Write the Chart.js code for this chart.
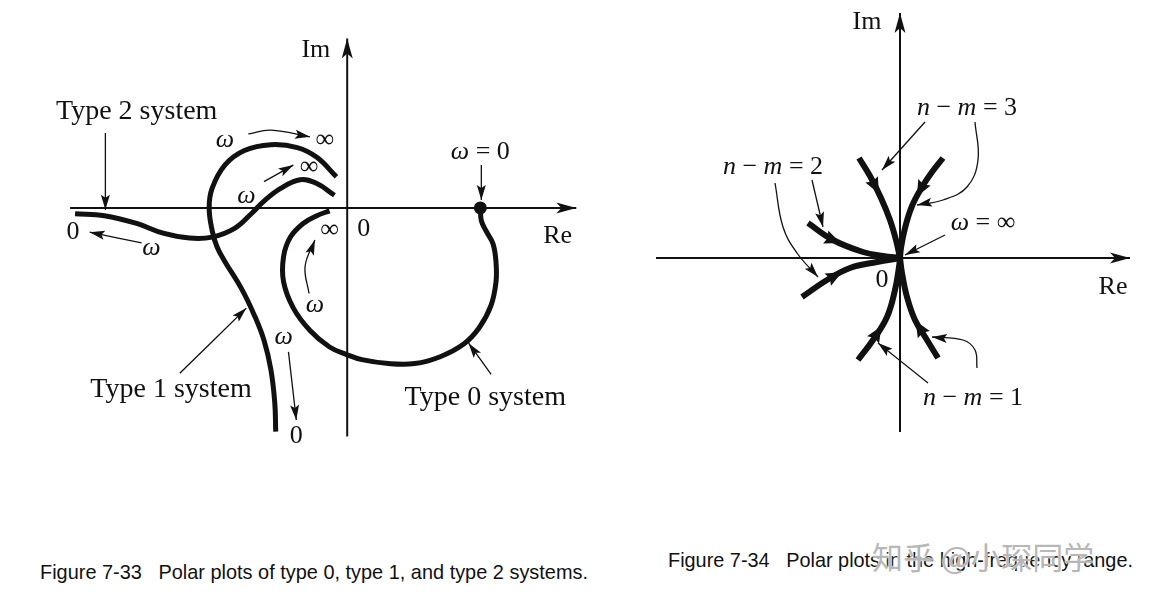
<!DOCTYPE html>
<html>
<head>
<meta charset="utf-8">
<script src="https://cdn.jsdelivr.net/npm/chart.js@4.4.1/dist/chart.umd.min.js"></script>
<style>
  html, body { margin: 0; background: #fff; }
  body { width: 1149px; height: 606px; position: relative; overflow: hidden; }
  canvas { position: absolute; top: 0; }
  #left { left: 0; }
  #right { left: 620px; }
  .cap {
    position: absolute;
    font-family: "Liberation Sans", Arial, sans-serif;
    font-size: 21px;
    line-height: 21px;
    color: #111;
    white-space: pre;
    transform-origin: 0 50%;
  }
  .mark {
    position: absolute;
    font-family: "Noto Sans CJK SC", sans-serif;
    font-size: 31px;
    line-height: 31px;
    color: rgba(160, 160, 160, 0.75);
    text-shadow: 0 0 2px #fff, 0 0 1px #fff;
    white-space: pre;
  }
</style>
</head>
<body>
<canvas id="left" width="620" height="480"></canvas>
<canvas id="right" width="529" height="480"></canvas>
<div class="cap" data-w="548" style="left:40px;top:561px">Figure 7-33   Polar plots of type 0, type 1, and type 2 systems.</div>
<div class="cap" data-w="465" style="left:668px;top:549px">Figure 7-34   Polar plots in the high-frequency range.</div>
<div class="mark" style="left:872px;top:540px">知乎 @小琛同学</div>
<script>
// ---- Figure 7-33 (origin at the axes crossing, Im upwards) ----
const RE_AXIS_33 = [[-283, 0], [234, 0]];
const IM_AXIS_33 = [[0, -235], [0, 174]];

const TYPE0 = [[136, 0], [137, -13], [142, -24], [149, -37], [152, -56], [152, -76],
  [147, -100], [135, -123], [119, -140], [95, -153], [69, -160], [42, -160],
  [15, -156], [0, -151], [-18, -143], [-38, -126], [-55, -103], [-65, -76],
  [-65, -50], [-58, -30], [-45, -16], [-31, -8], [-18, -3]];

const TYPE1 = [[-11, 32], [-31, 52], [-51, 62], [-78, 65], [-105, 59], [-125, 44],
  [-138, 20], [-141, 0], [-138, -23], [-133, -40], [-125, -55], [-108, -83],
  [-95, -110], [-85, -136], [-78, -166], [-74, -200], [-73, -230]];

const TYPE2 = [[-278, -6], [-248, -8], [-215, -16], [-188, -26], [-161, -31],
  [-138, -30], [-115, -21], [-98, -6], [-85, 7], [-68, 20], [-48, 29], [-31, 25], [-13, 13]];

const OMEGA_ZERO = [[136, 0]];

// pointer arrows, the last point is the tip
const POINTERS_33 = [
  [[-247, 77], [-247, -2]],
  [[-101, 76], [-78, 80], [-38, 73]],
  [[-85, 27], [-55, 44]],
  [[-210, -36], [-263, -25]],
  [[-39, -88], [-43, -60], [-33, -33]],
  [[-60, -148], [-56, -183], [-52, -218]],
  [[-171, -170], [-103, -103]],
  [[147, -171], [124, -139]],
  [[137, 44], [137, 8]]
];

const LABELS_33 = [
  ["Im", -32, 162], ["Re", 215, -29], ["0", 17, -22],
  ["Type 2 system", -215, 99], ["Type 1 system", -180, -187], ["Type 0 system", 141, -195],
  ["*ω*", -125, 70], ["∞", -23, 70], ["∞", -39, 42], ["*ω*", -103, 12],
  ["0", -280, -25], ["*ω*", -200, -41], ["∞", -18, -23], ["*ω*", -33, -100],
  ["*ω* = 0", 136, 57], ["*ω*", -65, -133], ["0", -52, -235]
];

// ---- Figure 7-34 ----
const RE_AXIS_34 = [[-244, 0], [230, 0]];
const IM_AXIS_34 = [[0, -174], [0, 245]];

const NM2_UPPER = [[-92, 35], [-67, 18], [-37, 6], [-17, 2], [0, 0]];
const NM2_LOWER = [[-98, -39], [-73, -22], [-50, -10], [-23, -4], [0, 0]];
const NM3_LEFT = [[-41, 100], [-30, 82], [-19, 60], [-10, 38], [-4, 18], [0, 0]];
const NM3_RIGHT = [[43, 100], [32, 86], [22, 71], [12, 52], [5, 30], [1, 10], [0, 0]];
const NM1_LEFT = [[-42, -102], [-27, -82], [-13, -59], [-5, -32], [-1, -9], [0, 0]];
const NM1_RIGHT = [[38, -100], [27, -82], [15, -62], [7, -39], [2, -15], [0, 0]];

const POINTERS_34 = [
  [[25, 136], [-18, 88]],
  [[75, 136], [78, 98], [67, 71], [43, 58], [17, 53]],
  [[-88, 78], [-77, 31]],
  [[-125, 75], [-117, 31], [-103, 5], [-82, -19]],
  [[45, 23], [5, 3]],
  [[28, -125], [-22, -85]],
  [[77, -110], [75, -92], [63, -82], [32, -79]]
];

const LABELS_34 = [
  ["Im", -33, 236], ["Re", 213, -29], ["0", -18, -22],
  ["*n* − *m* = 2", -127, 91], ["*n* − *m* = 3", 67, 150],
  ["*ω* = ∞", 83, 35], ["*n* − *m* = 1", 73, -140]
];

const SERIF = '"Liberation Serif", "Times New Roman", "DejaVu Serif", serif';
const INK = "#111";

const AXIS_HEAD = { len: 20, half: 5.5, notch: 0.75 };
const POINTER_HEAD = { len: 15, half: 4.5, notch: 0.8 };
const CURVE_HEAD = { len: 16, half: 7, notch: 0.85 };

const toXY = (pts) => pts.map(([x, y]) => ({ x, y }));

function line(pts, width, extra) {
  return Object.assign({
    data: toXY(pts),
    showLine: true,
    borderColor: INK,
    backgroundColor: INK,
    borderWidth: width,
    pointRadius: 0,
    tension: 0.4,
    fill: false,
    clip: false
  }, extra || {});
}

function drawHead(ctx, x, y, dx, dy, spec) {
  const l = Math.hypot(dx, dy) || 1;
  const ux = dx / l, uy = dy / l;
  const nx = -uy, ny = ux;
  ctx.beginPath();
  ctx.moveTo(x, y);
  ctx.lineTo(x - ux * spec.len + nx * spec.half, y - uy * spec.len + ny * spec.half);
  ctx.lineTo(x - ux * spec.len * spec.notch, y - uy * spec.len * spec.notch);
  ctx.lineTo(x - ux * spec.len - nx * spec.half, y - uy * spec.len - ny * spec.half);
  ctx.closePath();
  ctx.fill();
}

const arrowHeads = {
  id: "arrowHeads",
  afterDatasetsDraw(chart) {
    const ctx = chart.ctx;
    ctx.save();
    ctx.fillStyle = INK;
    chart.data.datasets.forEach((ds, i) => {
      const pts = chart.getDatasetMeta(i).data;
      if (ds.head) {
        const tip = pts[pts.length - 1];
        const prev = pts[pts.length - 2];
        let bx = tip.cp1x, by = tip.cp1y;
        if (bx === undefined || Math.hypot(tip.x - bx, tip.y - by) < 1) {
          bx = prev.x; by = prev.y;
        }
        drawHead(ctx, tip.x, tip.y, tip.x - bx, tip.y - by, ds.head);
      }
      if (ds.midHead !== undefined) {
        const i0 = Math.floor(ds.midHead);
        const f = ds.midHead - i0;
        const a = pts[i0], b = pts[i0 + 1];
        drawHead(ctx, a.x + (b.x - a.x) * f, a.y + (b.y - a.y) * f,
          b.x - a.x, b.y - a.y, CURVE_HEAD);
      }
    });
    ctx.restore();
  }
};

function drawRich(ctx, text, x, y, size) {
  const parts = text.split("*");
  const fonts = parts.map((p, k) => (k % 2 ? "italic " : "") + size + "px " + SERIF);
  let total = 0;
  const widths = parts.map((p, k) => {
    ctx.font = fonts[k];
    const w = ctx.measureText(p).width;
    total += w;
    return w;
  });
  let cx = x - total / 2;
  parts.forEach((p, k) => {
    ctx.font = fonts[k];
    ctx.fillText(p, cx, y);
    cx += widths[k];
  });
}

function labelPlugin(items) {
  return {
    id: "figLabels",
    afterDraw(chart) {
      const ctx = chart.ctx;
      const xs = chart.scales.x, ys = chart.scales.y;
      ctx.save();
      ctx.fillStyle = INK;
      ctx.textBaseline = "middle";
      ctx.textAlign = "left";
      items.forEach(([text, x, y]) => {
        // the "Type n system" names are set a little larger than the symbols
        const size = text.includes("system") ? 28 : 26;
        drawRich(ctx, text, xs.getPixelForValue(x), ys.getPixelForValue(y), size);
      });
      ctx.restore();
    }
  };
}

function makeFigure(canvas, xRange, yRange, datasets, labels) {
  return new Chart(canvas, {
    type: "scatter",
    data: { datasets },
    options: {
      responsive: false,
      animation: false,
      events: [],
      layout: { padding: 0 },
      plugins: { legend: { display: false }, tooltip: { enabled: false } },
      scales: {
        x: { type: "linear", min: xRange[0], max: xRange[1], display: false },
        y: { type: "linear", min: yRange[0], max: yRange[1], display: false }
      }
    },
    plugins: [arrowHeads, labelPlugin(labels)]
  });
}

makeFigure(document.getElementById("left"), [-348, 272], [-273, 207], [
  line(RE_AXIS_33, 2, { tension: 0, head: AXIS_HEAD }),
  line(IM_AXIS_33, 2, { tension: 0, head: AXIS_HEAD }),
  line(TYPE0, 5),
  line(TYPE1, 5),
  line(TYPE2, 5),
  ...POINTERS_33.map((p) => line(p, 1.3, { head: POINTER_HEAD })),
  { data: toXY(OMEGA_ZERO), pointRadius: 6.5, pointBackgroundColor: INK, pointBorderWidth: 0, showLine: false, clip: false }
], LABELS_33);

makeFigure(document.getElementById("right"), [-280, 249], [-222, 258], [
  line(RE_AXIS_34, 2, { tension: 0, head: AXIS_HEAD }),
  line(IM_AXIS_34, 2, { tension: 0, head: AXIS_HEAD }),
  line(NM2_UPPER, 6, { midHead: 1.25 }),
  line(NM2_LOWER, 6, { midHead: 1.65 }),
  line(NM3_LEFT, 6, { midHead: 1.8 }),
  line(NM3_RIGHT, 6, { midHead: 2.5 }),
  line(NM1_LEFT, 6, { midHead: 1.6 }),
  line(NM1_RIGHT, 6, { midHead: 1.95 }),
  ...POINTERS_34.map((p) => line(p, 1.3, { head: POINTER_HEAD }))
], LABELS_34);

document.querySelectorAll(".cap").forEach((el) => {
  const w = el.getBoundingClientRect().width;
  el.style.transform = "scaleX(" + (Number(el.dataset.w) / w) + ")";
});
</script>
</body>
</html>
